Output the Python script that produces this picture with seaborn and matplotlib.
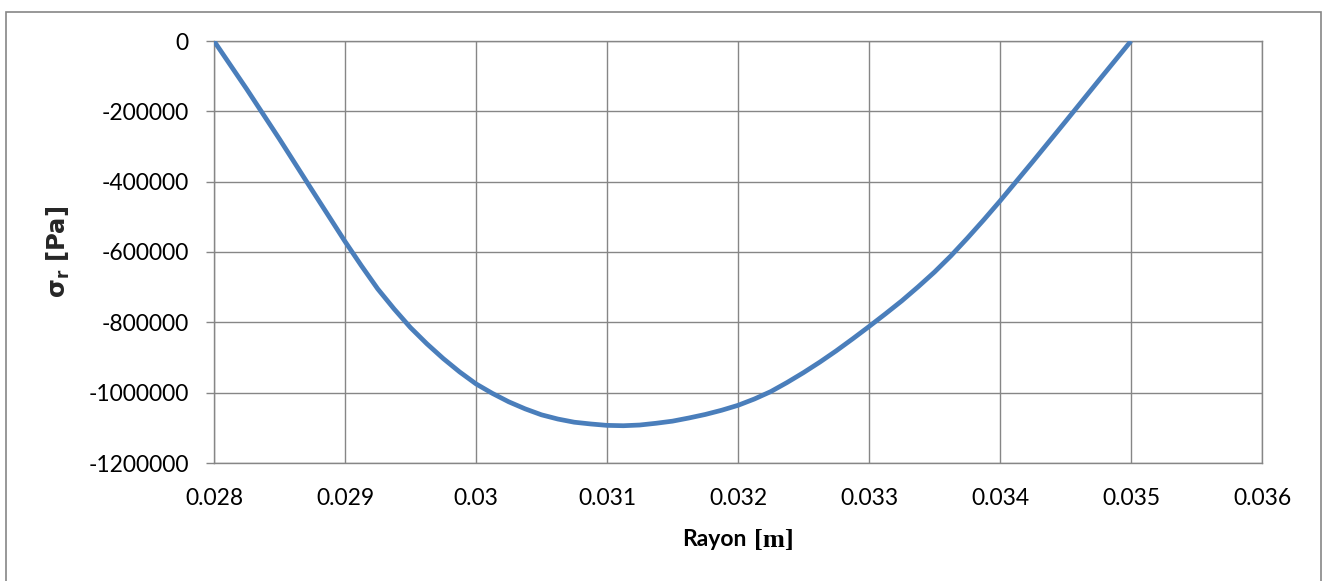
import matplotlib
matplotlib.use("Agg")
import matplotlib.pyplot as plt
import seaborn as sns
import pandas as pd
from matplotlib.patches import Rectangle
from matplotlib.offsetbox import TextArea, HPacker, AnnotationBbox

# ---- data ----
rayon = [0.028000, 0.028250, 0.028500, 0.028750,
         0.029000, 0.029125, 0.029250, 0.029375, 0.029500, 0.029625, 0.029750, 0.029875,
         0.030000, 0.030125, 0.030250, 0.030375, 0.030500, 0.030625, 0.030750, 0.030875,
         0.031000, 0.031125, 0.031250, 0.031375, 0.031500, 0.031625, 0.031750, 0.031875,
         0.032000, 0.032125, 0.032250, 0.032375, 0.032500, 0.032625, 0.032750, 0.032875,
         0.033000, 0.033125, 0.033250, 0.033375, 0.033500, 0.033625, 0.033750, 0.033875,
         0.034000, 0.034250, 0.034500, 0.034750, 0.035000]
sigma_r = [0, -137000, -279000, -425000,
           -570000, -639000, -705000, -762000, -815000, -861000, -903000, -941000,
           -975000, -1002000, -1026000, -1046000, -1063000, -1075000, -1084000, -1089000,
           -1093000, -1094000, -1092000, -1087000, -1081000, -1072000, -1062000, -1050000,
           -1036000, -1018000, -997000, -971000, -943000, -913000, -881000, -847000,
           -812000, -776000, -739000, -699000, -657000, -611000, -561000, -509000,
           -455000, -343000, -229000, -114000, 0]
x_ticks = [0.028, 0.029, 0.03, 0.031, 0.032, 0.033, 0.034, 0.035, 0.036]
x_tick_labels = ["0.028", "0.029", "0.03", "0.031", "0.032", "0.033", "0.034", "0.035", "0.036"]
y_ticks = [0, -200000, -400000, -600000, -800000, -1000000, -1200000]
y_tick_labels = ["0", "-200000", "-400000", "-600000", "-800000", "-1000000", "-1200000"]
x_label_main = "Rayon"
x_label_unit = "[m]"
y_label = r"$\mathbf{\sigma_r\ [Pa]}$"

df = pd.DataFrame({"Rayon": rayon, "sigma_r": sigma_r})

sns.set_theme(style="white")
plt.rcParams["font.family"] = ["Lato", "DejaVu Sans"]

W, H = 1326, 581
fig = plt.figure(figsize=(W / 100, H / 100), dpi=100)
fig.patch.set_facecolor("white")
ax = fig.add_axes([214 / W, 1 - 463 / H, (1262 - 214) / W, (463 - 41) / H])

grid_c = "#868686"
sns.lineplot(data=df, x="Rayon", y="sigma_r", ax=ax, color="#4a7ebb",
             linewidth=3.4, solid_capstyle="butt", solid_joinstyle="round", zorder=3)

ax.set_xlim(0.028, 0.036)
ax.set_ylim(-1200000, 0)
ax.set_xticks(x_ticks)
ax.set_xticklabels(x_tick_labels)
ax.set_yticks(y_ticks)
ax.set_yticklabels(y_tick_labels)
ax.grid(True, color=grid_c, linewidth=1.0)
ax.set_axisbelow(True)
for s in ax.spines.values():
    s.set_color(grid_c)
    s.set_linewidth(1.0)
ax.tick_params(axis="y", which="both", length=6, width=1.0, color=grid_c,
               pad=12, labelsize=16.5, labelcolor="black", left=True)
ax.tick_params(axis="x", which="both", length=0, pad=18, labelsize=16.5,
               labelcolor="black", bottom=True)
ax.set_xlabel("")

# x axis title: bold sans "Rayon" + serif "[m]"
ta1 = TextArea(x_label_main, textprops=dict(fontsize=16.5, fontweight="bold",
                                            family=["Lato", "DejaVu Sans"], color="black"))
ta2 = TextArea(x_label_unit, textprops=dict(fontsize=19, fontweight="bold",
                                            family=["Liberation Serif"], color="black"))
pack = HPacker(children=[ta1, ta2], align="baseline", pad=0, sep=5)
ab = AnnotationBbox(pack, (0.5, -(540 - 463) / (463 - 41)), xycoords="axes fraction",
                    box_alignment=(0.5, 0.5), frameon=False, pad=0)
ax.add_artist(ab)

yl = ax.set_ylabel(y_label, fontsize=17.5, labelpad=12)
yl.set_math_fontfamily("dejavusans")

# outer chart border
fig.patches.append(Rectangle((6 / W, -0.05), (1321 - 6) / W, 1 - 12 / H + 0.05,
                             transform=fig.transFigure, fill=False,
                             edgecolor=grid_c, linewidth=1.2))

fig.savefig("out.png", dpi=100)
